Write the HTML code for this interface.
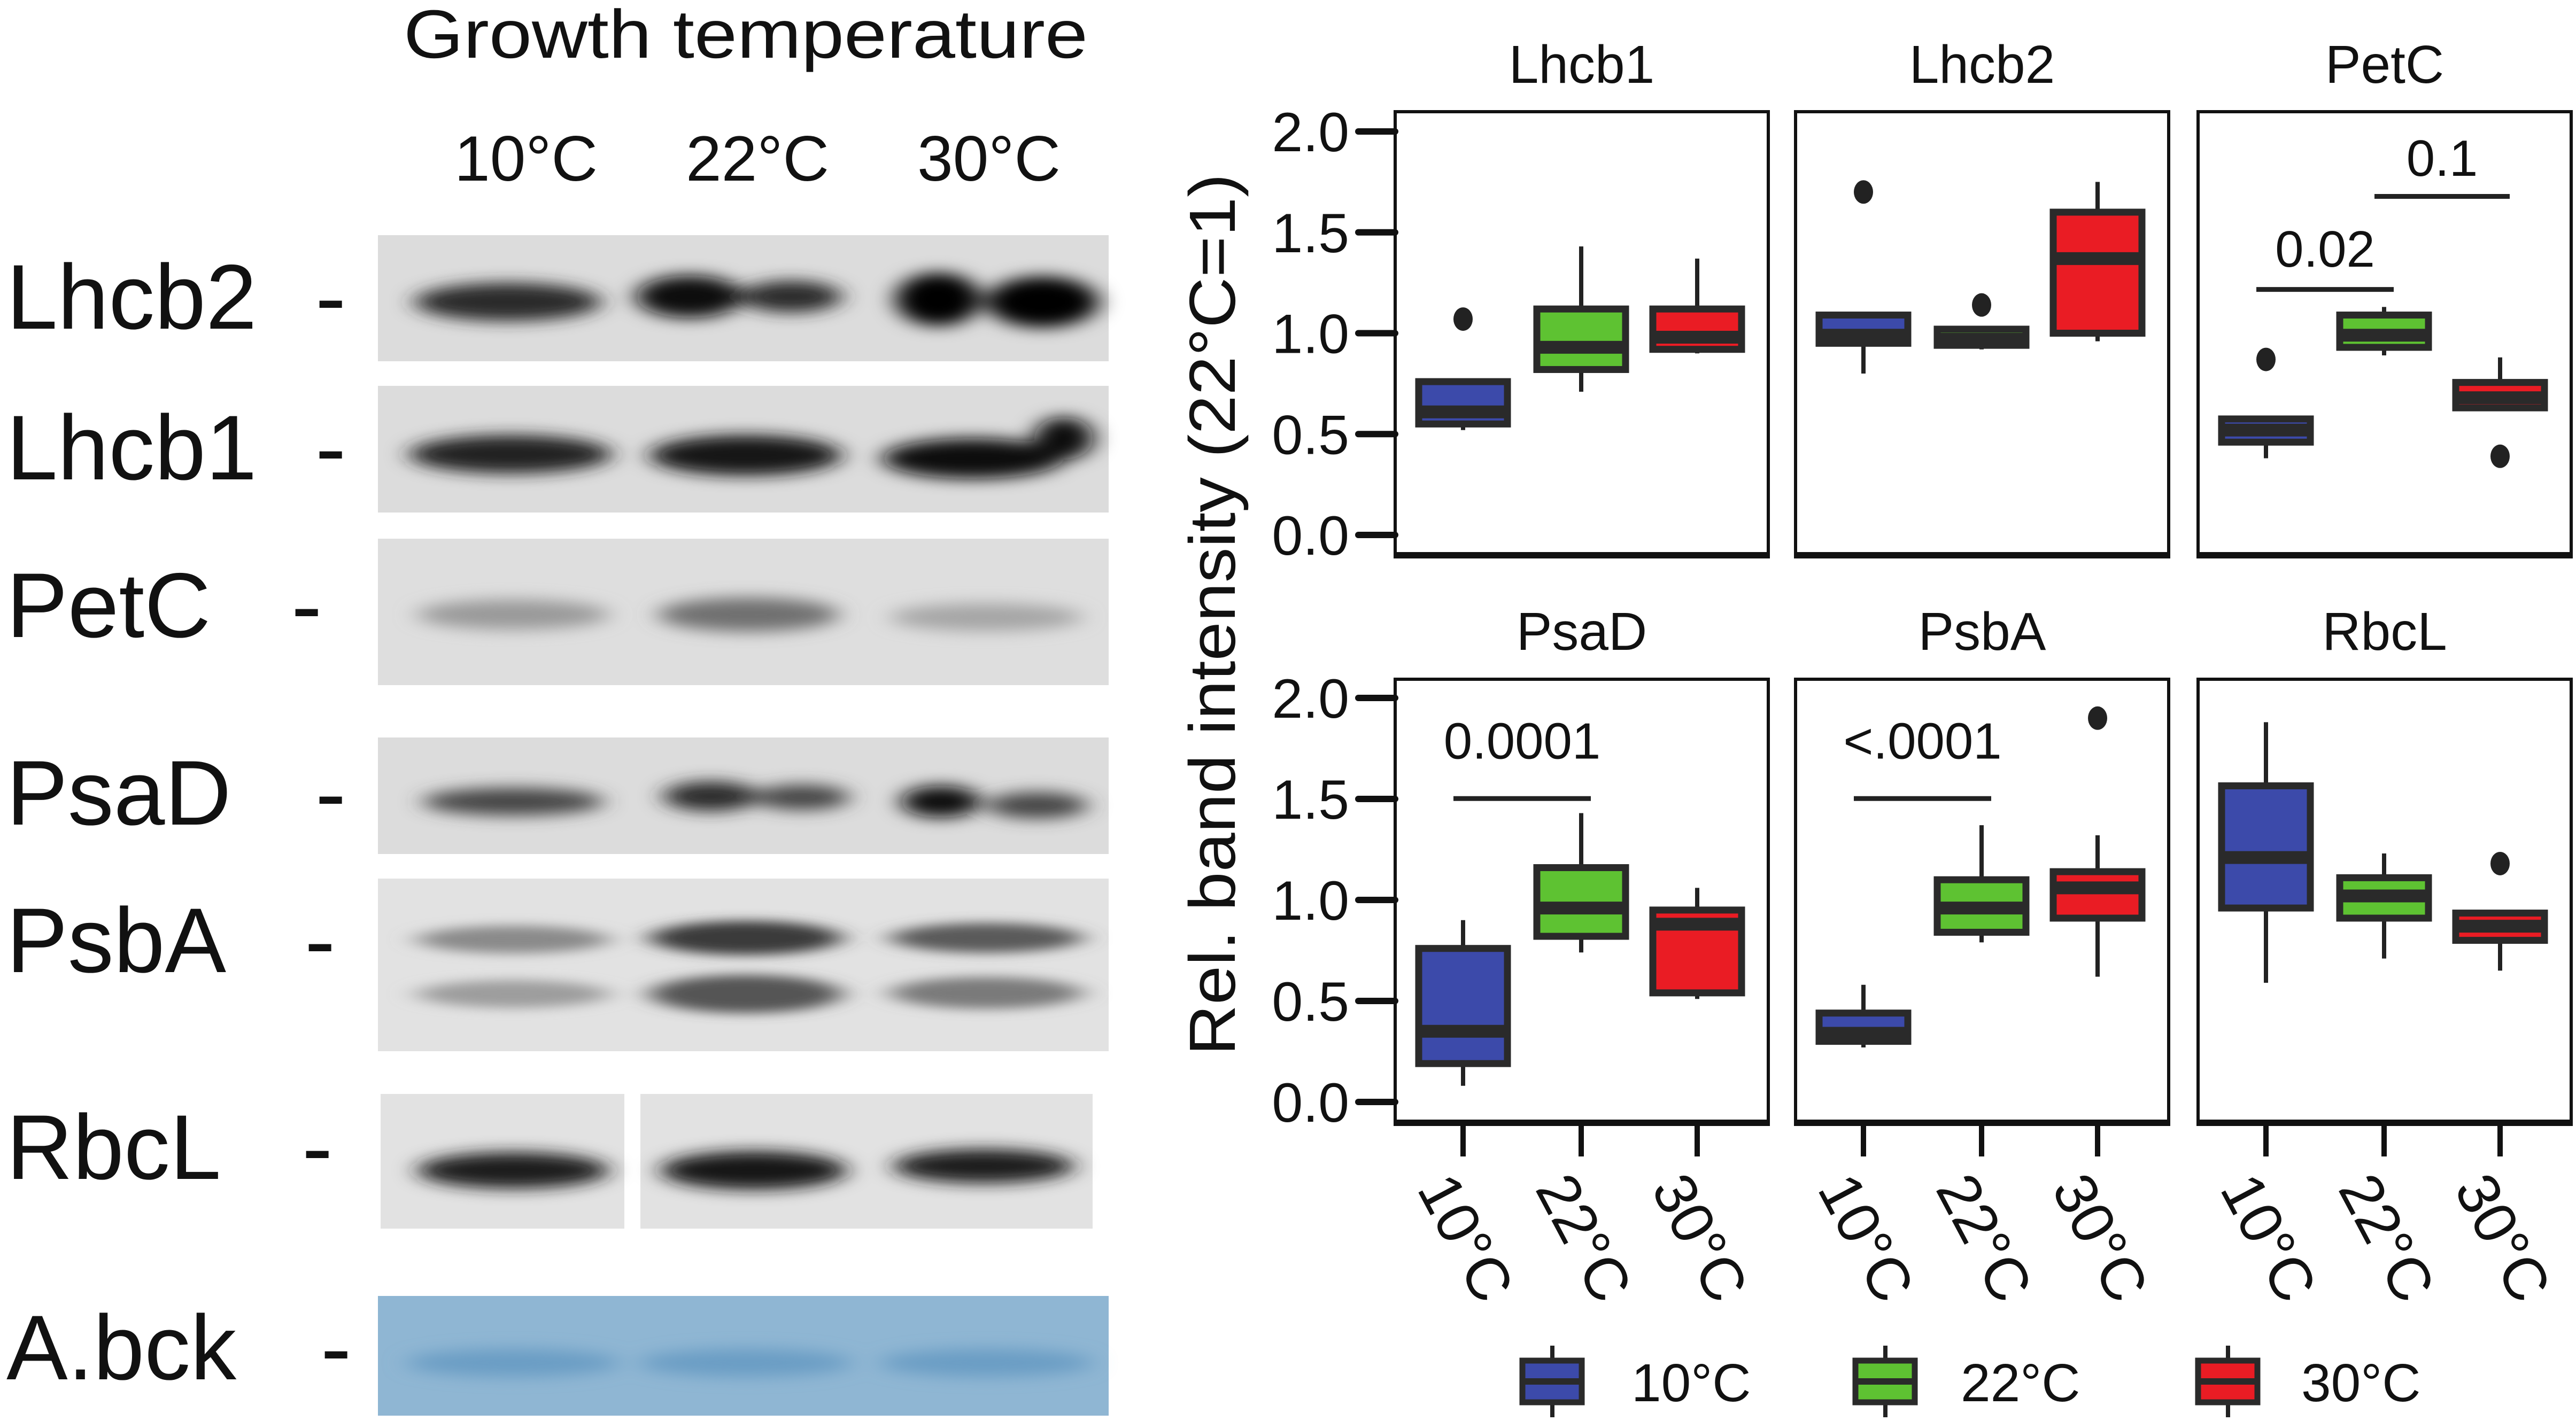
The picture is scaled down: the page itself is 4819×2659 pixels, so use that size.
<!DOCTYPE html>
<html><head><meta charset="utf-8">
<style>
html,body{margin:0;padding:0;background:#fff;}
svg{display:block;}
text{font-family:"Liberation Sans",sans-serif;fill:#111;}
</style></head>
<body>
<svg id="fig" xmlns="http://www.w3.org/2000/svg" width="4819" height="2659" viewBox="0 0 4819 2659">
<defs>
<filter id="blur" x="-30%" y="-100%" width="160%" height="300%"><feGaussianBlur stdDeviation="22 14"/></filter>
<filter id="blur2" x="-30%" y="-100%" width="160%" height="300%"><feGaussianBlur stdDeviation="26 10"/></filter>
</defs>
<g id="blot">
<text x="755" y="108" font-size="128" textLength="1280" lengthAdjust="spacingAndGlyphs">Growth temperature</text>
<text x="984" y="338" font-size="120" text-anchor="middle">10°C</text>
<text x="1417" y="338" font-size="120" text-anchor="middle">22°C</text>
<text x="1850" y="338" font-size="120" text-anchor="middle">30°C</text>

<g>
<rect x="707" y="440" width="1367" height="236" fill="#dcdcdc"/>
<g filter="url(#blur)"><ellipse cx="950" cy="565" rx="175" ry="36" fill="#2a2a2a"/><ellipse cx="1290" cy="555" rx="100" ry="40" fill="#0a0a0a"/><ellipse cx="1480" cy="555" rx="95" ry="30" fill="#2a2a2a"/><ellipse cx="1755" cy="560" rx="80" ry="50" fill="#050505"/><ellipse cx="1950" cy="565" rx="105" ry="48" fill="#050505"/></g>
</g>
<g>
<rect x="707" y="722" width="1367" height="237" fill="#dcdcdc"/>
<g filter="url(#blur)"><ellipse cx="955" cy="850" rx="190" ry="36" fill="#222"/><ellipse cx="1395" cy="852" rx="180" ry="38" fill="#151515"/><ellipse cx="1820" cy="858" rx="170" ry="38" fill="#0d0d0d"/><ellipse cx="1990" cy="820" rx="55" ry="40" fill="#0d0d0d"/></g>
</g>
<g>
<rect x="707" y="1008" width="1367" height="274" fill="#dedede"/>
<g filter="url(#blur)"><ellipse cx="960" cy="1150" rx="180" ry="28" fill="#999"/><ellipse cx="1400" cy="1150" rx="170" ry="32" fill="#6f6f6f"/><ellipse cx="1845" cy="1155" rx="180" ry="26" fill="#a5a5a5"/></g>
</g>
<g>
<rect x="707" y="1380" width="1367" height="218" fill="#dcdcdc"/>
<g filter="url(#blur)"><ellipse cx="960" cy="1500" rx="170" ry="26" fill="#444"/><ellipse cx="1330" cy="1490" rx="90" ry="28" fill="#2a2a2a"/><ellipse cx="1500" cy="1492" rx="90" ry="24" fill="#444"/><ellipse cx="1760" cy="1500" rx="75" ry="30" fill="#111"/><ellipse cx="1940" cy="1507" rx="95" ry="25" fill="#444"/></g>
</g>
<g>
<rect x="707" y="1644" width="1367" height="323" fill="#e2e2e2"/>
<g filter="url(#blur2)"><ellipse cx="960" cy="1758" rx="180" ry="26" fill="#8a8a8a"/><ellipse cx="960" cy="1860" rx="180" ry="26" fill="#9d9d9d"/><ellipse cx="1395" cy="1755" rx="180" ry="32" fill="#3a3a3a"/><ellipse cx="1395" cy="1860" rx="180" ry="36" fill="#555"/><ellipse cx="1845" cy="1755" rx="180" ry="28" fill="#5a5a5a"/><ellipse cx="1845" cy="1858" rx="180" ry="30" fill="#7a7a7a"/></g>
</g>
<g>
<rect x="712" y="2047" width="456" height="252" fill="#e2e2e2"/>
<rect x="1198" y="2047" width="846" height="252" fill="#e2e2e2"/>
<g filter="url(#blur)"><ellipse cx="960" cy="2190" rx="180" ry="34" fill="#1a1a1a"/><ellipse cx="1410" cy="2190" rx="175" ry="36" fill="#151515"/><ellipse cx="1840" cy="2182" rx="170" ry="32" fill="#1e1e1e"/></g>
</g>
<g>
<rect x="707" y="2425" width="1367" height="224" fill="#8fb6d3"/>
<g filter="url(#blur)"><ellipse cx="960" cy="2550" rx="200" ry="26" fill="#6b9dc4"/><ellipse cx="1395" cy="2550" rx="200" ry="26" fill="#6b9dc4"/><ellipse cx="1845" cy="2550" rx="200" ry="26" fill="#6b9dc4"/></g>
</g>

<g font-size="172">
<text x="12" y="615">Lhcb2</text><text x="590" y="615">-</text>
<text x="12" y="897">Lhcb1</text><text x="590" y="897">-</text>
<text x="12" y="1192">PetC</text><text x="545" y="1192">-</text>
<text x="12" y="1543">PsaD</text><text x="590" y="1543">-</text>
<text x="12" y="1819">PsbA</text><text x="570" y="1819">-</text>
<text x="12" y="2206">RbcL</text><text x="565" y="2206">-</text>
<text x="12" y="2581">A.bck</text><text x="600" y="2581">-</text>
</g>
</g>
<g id="chart"></g>
</svg>
<script>
const panelNames = ["Lhcb1","Lhcb2","PetC","PsaD","PsbA","RbcL"];
const categories = ["10°C","22°C","30°C"];
const colors = ["#3c4aaa","#5ec232","#ea1c24"];
const yTicks = [0.0,0.5,1.0,1.5,2.0];
const yTickLabels = ["0.0","0.5","1.0","1.5","2.0"];
// each box: [whiskerLow, q1, median, q3, whiskerHigh]
const boxesLhcb1 = [[0.52,0.55,0.61,0.76,0.76],[0.71,0.82,0.93,1.12,1.43],[0.90,0.92,0.98,1.12,1.37]];
const boxesLhcb2 = [[0.80,0.95,0.99,1.09,1.09],[0.92,0.94,0.97,1.02,1.02],[0.96,1.00,1.37,1.60,1.75]];
const boxesPetC  = [[0.38,0.46,0.52,0.575,0.585],[0.89,0.93,0.99,1.09,1.13],[0.63,0.63,0.68,0.756,0.88]];
const boxesPsaD  = [[0.08,0.19,0.35,0.76,0.90],[0.74,0.82,0.96,1.16,1.43],[0.51,0.54,0.88,0.95,1.06]];
const boxesPsbA  = [[0.27,0.30,0.34,0.44,0.58],[0.79,0.84,0.96,1.10,1.37],[0.62,0.91,1.06,1.14,1.32]];
const boxesRbcL  = [[0.59,0.96,1.21,1.565,1.88],[0.71,0.91,1.02,1.11,1.23],[0.65,0.80,0.87,0.935,0.935]];
const outliers = [[[0,1.07]],[[0,1.70],[1,1.14]],[[0,0.87],[2,0.39]],[],[[2,1.90]],[[2,1.18]]];
const sigLabels = [[],[],[["0.02",0,1,1.217,1.33],["0.1",1,2,1.678,1.78]],[["0.0001",0,1,1.502,1.70]],[["<.0001",0,1,1.502,1.70]],[]];

const NS="http://www.w3.org/2000/svg";
const root=document.getElementById('chart');
function mk(tag,attrs,parent){const e=document.createElementNS(NS,tag);for(const k in attrs)e.setAttribute(k,attrs[k]);(parent||root).appendChild(e);return e;}
const panelX=[2610,3359,4112], PW=698;
const rowTop=[209,1271], rowBot=[1039,2101], rowZero=[1001,2062], rowUnit=[377.5,378];
const catOff=[127,348,565], BW=166;
const allBoxes=[boxesLhcb1,boxesLhcb2,boxesPetC,boxesPsaD,boxesPsbA,boxesRbcL];

for(let p=0;p<6;p++){
  const r=Math.floor(p/3), c=p%3, x0=panelX[c];
  const yS=v=>rowZero[r]-v*rowUnit[r];
  const xS=i=>x0+catOff[i];
  const g=mk('g',{});
  
  
  const t=mk('text',{x:x0+PW/2,y:r?1216:155,'font-size':100,'text-anchor':'middle'},g);
  
  
  t.textContent=panelNames[p];
  const fr=mk('rect',{x:x0,y:rowTop[r],width:PW,height:rowBot[r]-rowTop[r],fill:'none',stroke:'#111','stroke-width':6},g);
  
  
  mk('line',{x1:x0-3,x2:x0+PW+3,y1:rowBot[r],y2:rowBot[r],stroke:'#111','stroke-width':12},g);
  if(c===0){
    yTicks.forEach((v,i)=>{
      const tk=mk('line',{x1:2541,x2:x0,y1:yS(v),y2:yS(v),stroke:'#111','stroke-width':12,'stroke-linecap':'round'},g);
      
      
      const tl=mk('text',{x:2524,y:yS(v)+37,'font-size':104,'text-anchor':'end'},g);
      
      
      tl.textContent=yTickLabels[i];
    });
  }
  if(r===1){
    categories.forEach((cat,i)=>{
      const tk=mk('line',{x1:xS(i),x2:xS(i),y1:rowBot[r],y2:2164,stroke:'#111','stroke-width':10},g);
      
      
      const tl=mk('text',{x:0,y:0,'font-size':112,'text-anchor':'end',transform:`translate(${xS(i)+30},2445) rotate(62)`},g);
      
      
      tl.textContent=cat;
    });
  }
  allBoxes[p].forEach((b,i)=>{
    const cx=xS(i);
    const bg=mk('g',{},g);
    
    
    mk('line',{x1:cx,x2:cx,y1:yS(b[0]),y2:yS(b[4]),stroke:'#222','stroke-width':8},bg);
    mk('rect',{x:cx-BW/2,y:yS(b[3]),width:BW,height:yS(b[1])-yS(b[3]),fill:colors[i],stroke:'#2a2a2a','stroke-width':13},bg);
    mk('line',{x1:cx-BW/2,x2:cx+BW/2,y1:yS(b[2]),y2:yS(b[2]),stroke:'#2a2a2a','stroke-width':24},bg);
  });
  outliers[p].forEach(o=>{
    const d=mk('ellipse',{cx:xS(o[0]),cy:yS(o[1]),rx:18,ry:22,fill:'#222'},g);
    
    
  });
  sigLabels[p].forEach(s=>{
    const a=xS(s[1])-18, b=xS(s[2])+18;
    const ln=mk('line',{x1:a,x2:b,y1:yS(s[3]),y2:yS(s[3]),stroke:'#222','stroke-width':9},g);
    
    
    const st=mk('text',{x:(a+b)/2,y:yS(s[4]),'font-size':96,'text-anchor':'middle'},g);
    
    
    st.textContent=s[0];
  });
}
const yt=mk('text',{x:0,y:0,'font-size':122,'text-anchor':'middle',transform:'translate(2310,1150) rotate(-90)',textLength:1650,lengthAdjust:'spacingAndGlyphs'});


yt.textContent='Rel. band intensity (22°C=1)';

const legX=[2848,3471,4112], legTX=[3052,3668,4305];
categories.forEach((cat,i)=>{
  const lg=mk('g',{});
  
  
  const cx=legX[i]+56;
  mk('line',{x1:cx,x2:cx,y1:2518,y2:2652,stroke:'#222','stroke-width':8},lg);
  mk('rect',{x:legX[i],y:2546,width:111,height:78,fill:colors[i],stroke:'#2a2a2a','stroke-width':11},lg);
  mk('line',{x1:legX[i],x2:legX[i]+111,y1:2585,y2:2585,stroke:'#2a2a2a','stroke-width':12},lg);
  const lt=mk('text',{x:legTX[i],y:2622,'font-size':100},lg);
  lt.textContent=cat;
});
</script>
</body></html>
